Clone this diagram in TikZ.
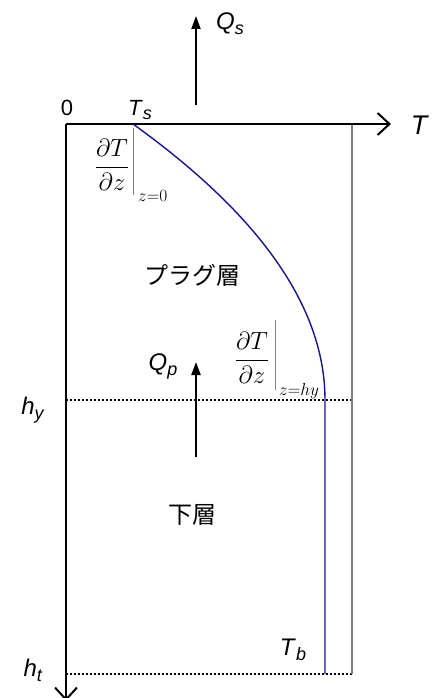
\documentclass[tikz,border=0pt]{standalone}
\usepackage{fontspec}
\setmainfont{Liberation Sans}
\newfontfamily\jpfont{Noto Sans CJK JP}
\usepackage{amsmath}
\usetikzlibrary{arrows.meta}
\definecolor{cv}{RGB}{20,20,140}
\definecolor{gy}{RGB}{128,128,128}

% italic label with a lowered italic subscript
\newcommand{\isub}[3]{\textit{#1}\raisebox{-#3pt}{\fontsize{18}{18}\selectfont\textit{#2}}}

\begin{document}
\begin{tikzpicture}[x=1pt, y=-1pt,
    axisline/.style={line width=2pt, -{Straight Barb[length=12pt,width=22pt]}},
    flow/.style={line width=2pt, -{Triangle[length=13pt,width=9pt]}},
    level/.style={line width=2pt, dotted},
    lbl/.style={font=\fontsize{24}{24}\selectfont, inner sep=0pt},
    deriv/.style={font=\fontsize{26}{26}\selectfont, inner sep=0pt},
    evalbar/.style={gy, line width=1pt},
    evalsub/.style={font=\fontsize{16}{16}\selectfont, inner sep=0pt, anchor=west}]

\useasboundingbox (0,0) rectangle (439,698);

% ── axes ──
\coordinate (O)    at (66,124);
\coordinate (Tend) at (391,124);
\coordinate (Zend) at (66,701);
\coordinate (RT)   at (352,124);
\coordinate (RB)   at (352,674);
\coordinate (YL)   at (66,400);
\coordinate (YR)   at (352,400);
\coordinate (BL)   at (66,674);

% layer levels
\draw[level] (YL) -- (YR);
\draw[level] (BL) -- (RB);
\draw[gy, line width=1.3pt] (RT) -- (RB);

\draw[axisline] (O) -- (Tend);
\draw[axisline] (O) -- (Zend);

% ── temperature profile ──
\draw[cv, line width=1.4pt]
    plot[domain=0:1, samples=50] ({325-192*(1-\x)^2}, {124+276*\x})
    -- (325,674);

% ── axis labels ──
\node[lbl, font=\fontsize{22}{22}\selectfont] (zero) at (67,108) {0};
\node[lbl, font=\fontsize{22}{22}\selectfont] (ts) at (140,110) {\isub{T}{s}{4}};
\node[lbl, font=\fontsize{27}{27}\selectfont] (tax) at (420,125) {\textit{T}};
\node[lbl] (hy) at (33,410) {\isub{h}{y}{5}};
\node[lbl] (ht) at (33,670) {\isub{h}{t}{5}};
\node[lbl] (tb) at (293,650) {\isub{T}{b}{5}};

% ── heat flows ──
\coordinate (qsBase) at (196,105);
\coordinate (qsTip)  at (196,16);
\draw[flow] (qsBase) -- (qsTip);
\node[lbl] (qs) at (230,24) {\isub{Q}{s}{5}};

\coordinate (qpBase) at (196,457);
\coordinate (qpTip)  at (196,362);
\draw[flow] (qpBase) -- (qpTip);
\node[lbl] (qp) at (163,366) {\isub{Q}{p}{5}};

% ── layer names ──
\node[lbl] (plug) at (192,275) {\jpfont プラグ層};
\node[lbl] (lower) at (192,515) {\jpfont 下層};

% ── gradients ──
\node[deriv] (dtop) at (112,165) {$\dfrac{\partial T}{\partial z}$};
\draw[evalbar] (133,128) -- (133,195);
\node[evalsub] (stop) at (138,196) {$z{=}0$};

\node[deriv] (dmid) at (252,358) {$\dfrac{\partial T}{\partial z}$};
\draw[evalbar] (275,320) -- (275,390);
\node[evalsub] (smid) at (279,391) {$z{=}hy$};

\end{tikzpicture}
\end{document}
